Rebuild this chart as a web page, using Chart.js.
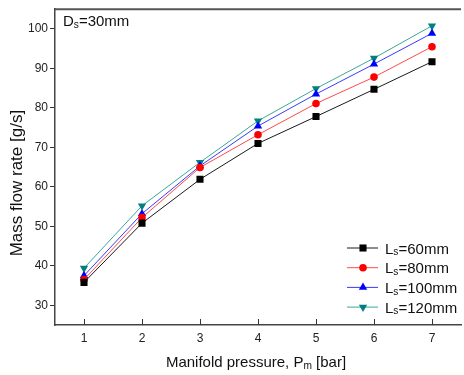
<!DOCTYPE html>
<html>
<head>
<meta charset="utf-8">
<script src="https://cdn.jsdelivr.net/npm/chart.js@4.4.0/dist/chart.umd.min.js"></script>
<style>
  html, body { margin: 0; padding: 0; background: #fff; overflow: hidden; }
  #wrap { width: 466px; height: 375px; }
</style>
</head>
<body>
<div id="wrap"><canvas id="flowChart" width="466" height="375"></canvas></div>
<script>
// Manifold pressure [bar]
var pressures = [1, 2, 3, 4, 5, 6, 7];
// Mass flow rate [g/s] for each slot length
var flowLs60 = [35.8, 50.8, 61.9, 71.0, 77.8, 84.7, 91.7];
var flowLs80 = [36.5, 52.2, 64.9, 73.2, 81.1, 87.8, 95.5];
var flowLs100 = [37.5, 53.2, 65.3, 75.4, 83.5, 91.1, 98.9];
var flowLs120 = [39.4, 55.2, 66.2, 76.7, 84.9, 92.6, 100.8];
var seriesLengths = ['60', '80', '100', '120'];
var xTicks = [1, 2, 3, 4, 5, 6, 7];
var yTicks = [30, 40, 50, 60, 70, 80, 90, 100];

var FONT = '"Liberation Sans", Arial, sans-serif';

function toPoints(vals) {
    return vals.map((v, i) => ({ x: pressures[i], y: v }));
}

var styles = [
    { line: '#1a1a1a', mark: '#000000', shape: 'rect', r: 5, rot: 0 },
    { line: '#ff4a4a', mark: '#ff0000', shape: 'circle', r: 3.8, rot: 0 },
    { line: '#3a3aff', mark: '#0000ff', shape: 'triangle', r: 4.8, rot: 0 },
    { line: '#3aa898', mark: '#008080', shape: 'triangle', r: 4.8, rot: 180 }
];
var allSeries = [flowLs60, flowLs80, flowLs100, flowLs120];

var datasets = allSeries.map((vals, i) => ({
    label: 'Ls=' + seriesLengths[i] + 'mm',
    data: toPoints(vals),
    borderColor: styles[i].line,
    borderWidth: 1,
    backgroundColor: styles[i].mark,
    pointBackgroundColor: styles[i].mark,
    pointBorderColor: styles[i].mark,
    pointBorderWidth: 0,
    pointStyle: styles[i].shape,
    pointRadius: styles[i].r,
    pointRotation: styles[i].rot,
    tension: 0,
    fill: false
}));

// draws text with a subscript part: parts = [[text, isSub], ...]
function drawSubText(ctx, parts, x, y, size, align) {
    var widths = parts.map(p => {
        ctx.font = (p[1] ? size * 0.68 : size) + 'px ' + FONT;
        return ctx.measureText(p[0]).width;
    });
    var total = widths.reduce((a, b) => a + b, 0);
    var cx = align === 'center' ? x - total / 2 : x;
    ctx.textAlign = 'left';
    ctx.textBaseline = 'alphabetic';
    parts.forEach((p, i) => {
        ctx.font = (p[1] ? size * 0.68 : size) + 'px ' + FONT;
        ctx.fillText(p[0], cx, p[1] ? y + size * 0.12 : y);
        cx += widths[i];
    });
}

var decorations = {
    id: 'decorations',
    afterDraw(chart) {
        var ctx = chart.ctx;
        var area = chart.chartArea;
        var xs = chart.scales.x;
        ctx.save();
        // top frame line
        ctx.strokeStyle = '#555';
        ctx.lineWidth = 2;
        ctx.beginPath();
        ctx.moveTo(area.left, area.top);
        ctx.lineTo(area.right, area.top);
        ctx.stroke();
        // inward x ticks
        ctx.strokeStyle = '#333';
        ctx.lineWidth = 1;
        xTicks.forEach(t => {
            var px = Math.round(xs.getPixelForValue(t)) + 0.5;
            ctx.beginPath();
            ctx.moveTo(px, area.bottom);
            ctx.lineTo(px, area.bottom - 6);
            ctx.stroke();
        });
        ctx.fillStyle = '#111';
        // y axis title, sitting a bit below the plot middle as in the source
        ctx.save();
        ctx.translate(17, (area.top + area.bottom) / 2 + 16);
        ctx.rotate(-Math.PI / 2);
        ctx.font = '17px ' + FONT;
        ctx.textAlign = 'center';
        ctx.textBaseline = 'middle';
        ctx.fillText('Mass flow rate [g/s]', 0, 0);
        ctx.restore();
        // x axis title with subscript
        drawSubText(ctx, [['Manifold pressure, P', false], ['m', true], [' [bar]', false]],
            (area.left + area.right) / 2 - 2, area.bottom + 42, 15, 'center');
        // annotation
        drawSubText(ctx, [['D', false], ['s', true], ['=30mm', false]], area.left + 8, area.top + 17, 15, 'left');
        // legend
        var lx = area.right - 114, ly = area.bottom - 77;
        datasets.forEach((ds, i) => {
            var y = ly + i * 19.7;
            ctx.strokeStyle = styles[i].line;
            ctx.lineWidth = 1;
            ctx.beginPath();
            ctx.moveTo(lx, y);
            ctx.lineTo(lx + 31, y);
            ctx.stroke();
            ctx.fillStyle = styles[i].mark;
            ctx.strokeStyle = styles[i].mark;
            Chart.helpers.drawPoint(ctx, {
                pointStyle: styles[i].shape,
                radius: styles[i].r,
                rotation: styles[i].rot,
                borderWidth: 0
            }, lx + 16, y);
            ctx.fillStyle = '#111';
            drawSubText(ctx, [['L', false], ['s', true], ['=' + seriesLengths[i] + 'mm', false]],
                lx + 38, y + 5.5, 15, 'left');
        });
        ctx.restore();
    }
};

var ctx = document.getElementById('flowChart').getContext('2d');
var flowChart = new Chart(ctx, {
    type: 'line',
    data: { datasets: datasets },
    options: {
        responsive: false,
        animation: false,
        layout: { padding: { top: 7, right: 0, bottom: 0, left: 0 } },
        plugins: { legend: { display: false }, tooltip: { enabled: false } },
        scales: {
            x: {
                type: 'linear',
                min: 0.5,
                max: 7.5,
                afterBuildTicks: s => { s.ticks = xTicks.map(v => ({ value: v })); },
                afterFit: s => { s.height = 50; },
                grid: { drawOnChartArea: false, drawTicks: false },
                border: { color: '#444', width: 1.5 },
                ticks: { color: '#222', font: { family: FONT, size: 12 }, padding: 6, maxRotation: 0 }
            },
            y: {
                min: 25,
                max: 105,
                afterBuildTicks: s => { s.ticks = yTicks.map(v => ({ value: v })); },
                afterFit: s => { s.width = 55; },
                grid: { drawOnChartArea: false, drawTicks: true, tickLength: 5, color: '#333' },
                border: { color: '#444', width: 1.5 },
                ticks: { color: '#222', font: { family: FONT, size: 12 }, padding: 2 }
            }
        }
    },
    plugins: [decorations]
});
</script>
</body>
</html>
